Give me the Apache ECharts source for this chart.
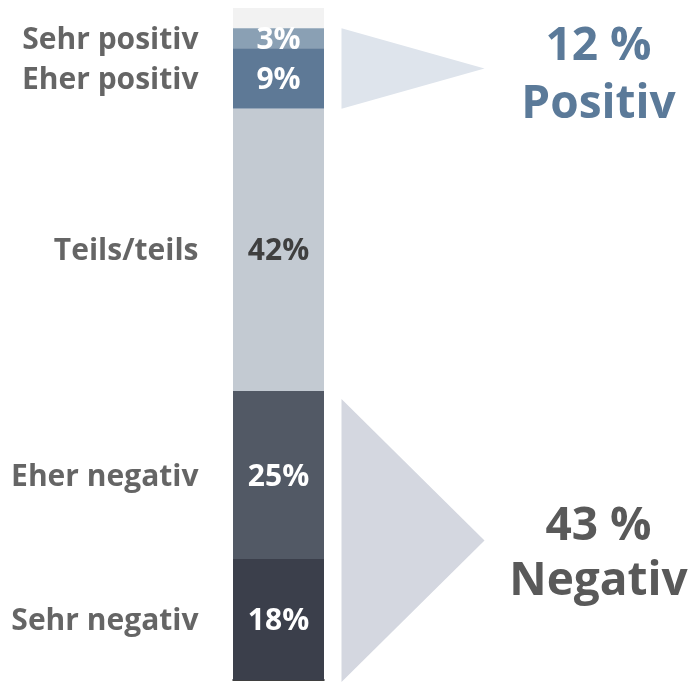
<!DOCTYPE html>
<html>
<head>
<meta charset="utf-8">
<script src="https://cdn.jsdelivr.net/npm/echarts@6/dist/echarts.min.js"></script>
<style>
html,body{margin:0;padding:0;background:#fff;}
#chart{width:694px;height:683px;}
</style>
</head>
<body>
<div id="chart"></div>
<script>
// Data
const categories = ['Keine Angabe', 'Sehr positiv', 'Eher positiv', 'Teils/teils', 'Eher negativ', 'Sehr negativ'];
const values = [3, 3, 9, 42, 25, 18];
const showLabel = [false, true, true, true, true, true];
const summaryValues = [12, 43];
const summaryNames = ['Positiv', 'Negativ'];
const summaryFrom = [1, 4]; // first segment index
const summaryTo = [2, 5];   // last segment index

const colors = ['#f2f2f2', '#8aa0b4', '#5e7996', '#c3cad2', '#525965', '#3b3f4b'];
const labelColors = ['#fff', '#fff', '#fff', '#3f3f3f', '#fff', '#fff'];
const FONT = '"Open Sans", "Noto Sans", sans-serif';

const starts = [];
let acc = 0;
values.forEach(v => { starts.push(acc); acc += v; });

const series = [];
values.forEach((v, i) => {
  series.push({
    type: 'bar',
    name: categories[i],
    stack: 'total',
    barWidth: '100%',
    silent: true,
    data: [v],
    itemStyle: { color: colors[i] },
    label: {
      show: showLabel[i],
      position: 'inside',
      offset: [0, 2],
      formatter: '{c}%',
      color: labelColors[i],
      fontFamily: FONT,
      fontWeight: 700,
      fontSize: 30
    }
  });
});

// category name labels left of the bar
series.push({
  type: 'scatter',
  silent: true,
  symbolSize: 0,
  data: values.map((v, i) => showLabel[i] ? { value: [0, starts[i] + v / 2], name: categories[i] } : null).filter(d => d),
  label: {
    show: true,
    position: 'left',
    distance: 80,
    offset: [0, 2],
    formatter: p => p.name,
    color: '#3f3f3f',
    fontFamily: FONT,
    fontWeight: 700,
    fontSize: 30
  }
});

// summary triangles + texts
const triAdj = [[0, 0], [8, 2]];
const textOff = [[-22, 36], [-14, 41]];
const textColor = ['#5b7a99', '#595959'];
const triColor = ['#dee4ec', '#d4d7e0'];
series.push({
  type: 'custom',
  silent: true,
  clip: false,
  data: summaryValues.map((s, k) => [0, starts[summaryFrom[k]], starts[summaryTo[k]] + values[summaryTo[k]], s, k]),
  renderItem: function (params, api) {
    const k = api.value(4);
    const p0 = api.coord([api.value(0), api.value(1)]);
    const p1 = api.coord([api.value(0), api.value(2)]);
    const y0 = p0[1] + triAdj[k][0];
    const y1 = p1[1] + triAdj[k][1];
    const xl = p0[0] + 63;
    const xa = p0[0] + 206;
    const ym = (y0 + y1) / 2;
    const tx = p0[0] + 320;
    return {
      type: 'group',
      children: [
        { type: 'polygon', shape: { points: [[xl, y0], [xa, ym], [xl, y1]] }, style: { fill: triColor[k] } },
        { type: 'text', style: { text: api.value(3) + ' %', x: tx, y: ym + textOff[k][0], align: 'center', verticalAlign: 'middle', fill: textColor[k], font: '700 46px ' + FONT } },
        { type: 'text', style: { text: summaryNames[k], x: tx, y: ym + textOff[k][1], align: 'center', verticalAlign: 'middle', fill: textColor[k], font: '700 46px ' + FONT } }
      ]
    };
  }
});

const chart = echarts.init(document.getElementById('chart'), null, { renderer: 'canvas' });
chart.setOption({
  animation: false,
  grid: { left: 233, top: 8, width: 91, height: 672 },
  xAxis: {
    type: 'category',
    data: ['Gesamt'],
    position: 'bottom',
    axisLine: { show: true, onZero: false, lineStyle: { color: '#000', width: 1.5 } },
    axisTick: { show: false },
    axisLabel: { show: false }
  },
  yAxis: {
    type: 'value',
    min: 0,
    max: 100,
    inverse: true,
    show: false,
    splitLine: { show: false }
  },
  series: series
});
</script>
</body>
</html>
